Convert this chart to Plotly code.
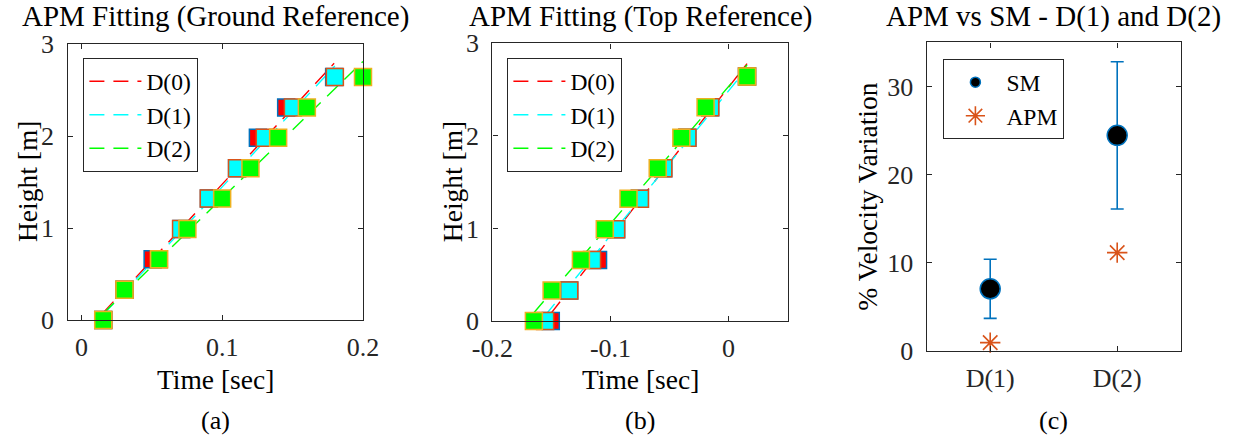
import plotly.graph_objects as go

W, H = 1237, 440

# ---- data -------------------------------------------------------------
heights = [0, 0.33, 0.66, 0.99, 1.32, 1.65, 1.98, 2.31, 2.64]

# (a) ground reference: detection times per height [s]
ground_d0 = [0.0154, 0.0305, 0.0505, 0.0710, 0.0905, 0.1105, 0.1253, 0.1454, 0.1795]
ground_d1 = [0.0154, 0.0305, 0.0549, 0.0707, 0.0904, 0.1105, 0.1302, 0.1502, 0.1800]
ground_d2 = [0.0154, 0.0305, 0.0551, 0.0752, 0.0999, 0.1200, 0.1397, 0.1601, 0.2000]

# (b) top reference: detection times per height [s]
top_d0 = [-0.1505, -0.1349, -0.1105, -0.0952, -0.0751, -0.0553, -0.0349, -0.0156, 0.0156]
top_d1 = [-0.1553, -0.1349, -0.1156, -0.0952, -0.0751, -0.0553, -0.0349, -0.0156, 0.0156]
top_d2 = [-0.1648, -0.1498, -0.1250, -0.1048, -0.0847, -0.0600, -0.0400, -0.0195, 0.0156]

# APM fitted lines: (time, height) end points
ground_fit_t = {"D(0)": [0.0154, 0.1795], "D(1)": [0.0154, 0.1800], "D(2)": [0.0154, 0.2000]}
ground_fit_h = {"D(0)": [0.08, 2.79], "D(1)": [0.06, 2.76], "D(2)": [0.07, 2.81]}
top_fit_t = {"D(0)": [-0.1505, 0.0156], "D(1)": [-0.1553, 0.0156], "D(2)": [-0.1648, 0.0156]}
top_fit_h = {"D(0)": [0.08, 2.78], "D(1)": [0.06, 2.73], "D(2)": [0.09, 2.765]}

# (c) velocity variation [%]
cmp_labels = ["D(1)", "D(2)"]
cmp_pos = [1, 2]
sm_mean = [7.05, 24.45]
sm_err = [3.35, 8.35]
apm_val = [0.95, 11.15]

# ---- styling ------------------------------------------------------------
FONT = "Liberation Serif"
FS = 26
AX_COL = "#262626"
APM_COL = "#D95319"
SM_COL = "#0072BD"
names = ["D(0)", "D(1)", "D(2)"]
fill_cols = ["#FF0000", "#00FFFF", "#00FF00"]
edge_cols = ["#0072BD", "#D95319", "#EDB120"]
DASH = "15px,9px"


def px_x(px):
    return px / W


def px_y(py):
    return 1 - py / H


fig = go.Figure()

panels = [
    ("x", "y", [ground_d0, ground_d1, ground_d2], ground_fit_t, ground_fit_h, "legend"),
    ("x2", "y2", [top_d0, top_d1, top_d2], top_fit_t, top_fit_h, "legend2"),
]

for xa, ya, series, fit_t, fit_h, leg in panels:
    # fitted dashed lines first so the squares sit on top
    for name, lc in zip(names, fill_cols):
        fig.add_trace(go.Scatter(
            x=fit_t[name], y=fit_h[name], mode="lines", name=name,
            line=dict(color=lc, width=1.4, dash=DASH),
            xaxis=xa, yaxis=ya, legend=leg, cliponaxis=False,
        ))
    for t, fc, ec in zip(series, fill_cols, edge_cols):
        fig.add_trace(go.Scatter(
            x=t, y=heights, mode="markers", showlegend=False,
            marker=dict(symbol="square", size=17, color=fc,
                        line=dict(color=ec, width=1.5)),
            xaxis=xa, yaxis=ya, cliponaxis=False,
        ))

# (c) SM with error bars, APM as asterisks
fig.add_trace(go.Scatter(
    x=cmp_pos, y=sm_mean, mode="markers", showlegend=False,
    marker=dict(symbol="circle", size=20, color="black",
                line=dict(color=SM_COL, width=1.5)),
    error_y=dict(type="data", array=sm_err, visible=True,
                 color=SM_COL, thickness=1.6, width=6.5),
    xaxis="x3", yaxis="y3", cliponaxis=False,
))
fig.add_trace(go.Scatter(
    x=cmp_pos, y=apm_val, mode="markers", showlegend=False,
    marker=dict(symbol="asterisk-open", size=17, color=APM_COL,
                line=dict(color=APM_COL, width=1.6)),
    xaxis="x3", yaxis="y3", cliponaxis=False,
))
# legend entries for (c)
fig.add_trace(go.Scatter(
    x=[None], y=[None], mode="markers", name="SM",
    marker=dict(symbol="circle", size=10, color="black",
                line=dict(color=SM_COL, width=1.5)),
    xaxis="x3", yaxis="y3", legend="legend3",
))
fig.add_trace(go.Scatter(
    x=[None], y=[None], mode="markers", name="APM",
    marker=dict(symbol="asterisk-open", size=16, color=APM_COL,
                line=dict(color=APM_COL, width=1.6)),
    xaxis="x3", yaxis="y3", legend="legend3",
))


def axis(domain, rng, anchor, **kw):
    d = dict(domain=domain, range=rng, anchor=anchor, showgrid=False,
             zeroline=False, showline=True, linecolor=AX_COL, linewidth=1.4,
             mirror="ticks", ticks="inside", ticklen=5, tickwidth=1.2,
             tickcolor=AX_COL, automargin=False,
             tickfont=dict(family=FONT, size=FS, color=AX_COL))
    d.update(kw)
    return d


# pixel boxes of the three axes
A = (67.5, 363.0, 44.0, 320.0)
B = (492.3, 787.7, 43.3, 321.0)
C = (926.7, 1180.7, 42.3, 351.0)

fig.update_layout(
    width=W, height=H, autosize=False,
    margin=dict(l=0, r=0, t=0, b=0, pad=0, autoexpand=False),
    paper_bgcolor="white", plot_bgcolor="white",
    font=dict(family=FONT, size=FS, color="black"),
    xaxis=axis([px_x(A[0]), px_x(A[1])], [-0.01, 0.2], "y",
               tickvals=[0, 0.1, 0.2], ticktext=["0", "0.1", "0.2"], ticklabelstandoff=4),
    yaxis=axis([px_y(A[3]), px_y(A[2])], [0, 3], "x",
               tickvals=[0, 1, 2, 3], ticklabelstandoff=7),
    xaxis2=axis([px_x(B[0]), px_x(B[1])], [-0.2, 0.05], "y2",
                tickvals=[-0.2, -0.1, 0], ticktext=["-0.2", "-0.1", "0"], ticklabelstandoff=4),
    yaxis2=axis([px_y(B[3]), px_y(B[2])], [0, 3], "x2",
                tickvals=[0, 1, 2, 3], ticklabelstandoff=7),
    xaxis3=axis([px_x(C[0]), px_x(C[1])], [0.5, 2.5], "y3",
                tickvals=cmp_pos, ticktext=cmp_labels, ticklabelstandoff=4),
    yaxis3=axis([px_y(C[3]), px_y(C[2])], [0, 35], "x3",
                tickvals=[0, 10, 20, 30], ticklabelstandoff=7),
)

leg_common = dict(
    xanchor="left", yanchor="top", bgcolor="white",
    bordercolor="#262626", borderwidth=1.4,
    font=dict(family=FONT, size=23.5, color="black"),
    itemwidth=52, tracegroupgap=0,
)
fig.update_layout(
    legend=dict(x=px_x(83), y=px_y(58), **leg_common),
    legend2=dict(x=px_x(507), y=px_y(58), **leg_common),
    legend3=dict(x=px_x(943), y=px_y(59), **leg_common),
)


# titles, axis labels and panel tags
def note(text, x, y, angle=0, size=FS):
    fig.add_annotation(text=text, x=px_x(x), y=px_y(y), xref="paper", yref="paper",
                       showarrow=False, textangle=angle,
                       font=dict(family=FONT, size=size, color="black"),
                       xanchor="center", yanchor="middle")


for box, title, tag in [(A, "APM Fitting (Ground Reference)", "(a)"),
                        (B, "APM Fitting (Top Reference)", "(b)"),
                        (C, "APM vs SM - D(1) and D(2)", "(c)")]:
    cx = (box[0] + box[1]) / 2
    note(title, cx, 17, size=29)
    note(tag, cx, 420)

note("Time [sec]", (A[0] + A[1]) / 2, 379, size=27.5)
note("Time [sec]", (B[0] + B[1]) / 2, 379, size=27.5)
note("Height [m]", 28, (A[2] + A[3]) / 2, angle=-90, size=27.5)
note("Height [m]", 452, (B[2] + B[3]) / 2, angle=-90, size=27.5)
note("% Velocity Variation", 868, (C[2] + C[3]) / 2, angle=-90, size=27.5)

# page without body margin or scrollbars, so the figure fills the window exactly
page_css = ("document.documentElement.style.margin='0';"
            "document.documentElement.style.overflow='hidden';"
            "document.body.style.margin='0';"
            "document.body.style.overflow='hidden';")
fig.write_html("out.html", post_script=page_css)
